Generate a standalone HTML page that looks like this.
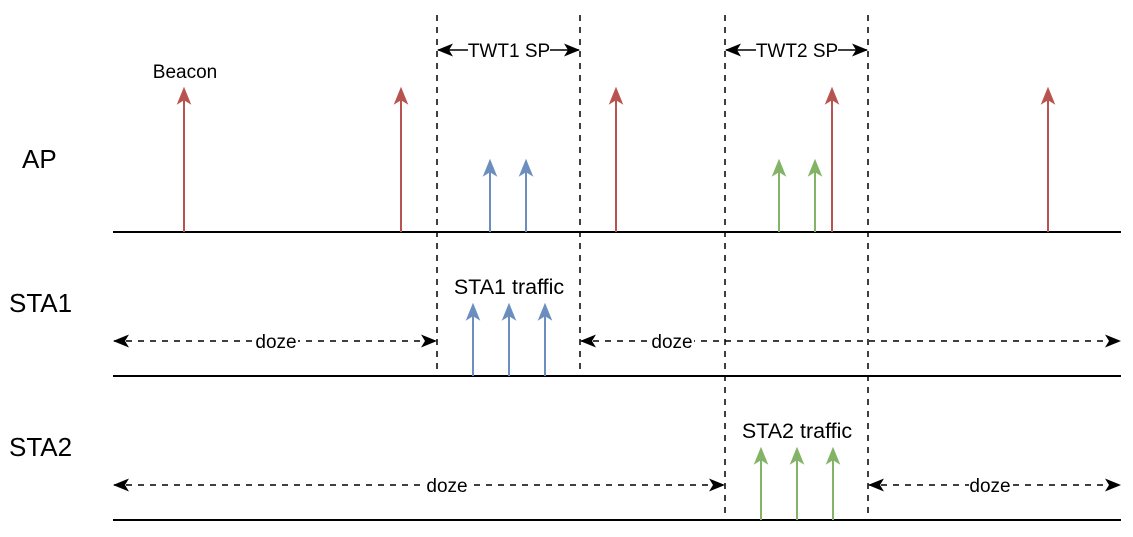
<!DOCTYPE html>
<html><head><meta charset="utf-8"><style>
html,body{margin:0;padding:0;background:#fff;width:1133px;height:537px;overflow:hidden}
text{font-family:"Liberation Sans",Helvetica,Arial,sans-serif}
</style></head><body>
<svg width="1133" height="537" viewBox="0 0 1133 537" xmlns="http://www.w3.org/2000/svg">
<defs>
<marker id="r" viewBox="0 0 16 16" refX="14" refY="8" markerWidth="18" markerHeight="18" markerUnits="userSpaceOnUse" orient="auto"><path d="M0,1.5 L16,8 L0,14.5 L4,8 Z" fill="#b85450"/></marker>
<marker id="b" viewBox="0 0 16 16" refX="14" refY="8" markerWidth="18" markerHeight="18" markerUnits="userSpaceOnUse" orient="auto"><path d="M0,1.5 L16,8 L0,14.5 L4,8 Z" fill="#6c8ebf"/></marker>
<marker id="g" viewBox="0 0 16 16" refX="14" refY="8" markerWidth="18" markerHeight="18" markerUnits="userSpaceOnUse" orient="auto"><path d="M0,1.5 L16,8 L0,14.5 L4,8 Z" fill="#82b366"/></marker>
<marker id="k" viewBox="0 0 16 16" refX="15" refY="8" markerWidth="16" markerHeight="16" markerUnits="userSpaceOnUse" orient="auto-start-reverse"><path d="M0,1.5 L16,8 L0,14.5 L4,8 Z" fill="#000"/></marker>
</defs>
<g stroke="#000" stroke-width="2">
<line x1="113" y1="232" x2="1121" y2="232"/>
<line x1="113" y1="376" x2="1121" y2="376"/>
<line x1="113" y1="520" x2="1121" y2="520"/>
</g>
<g stroke="#000" stroke-width="1.5" stroke-dasharray="6,6">
<line x1="437" y1="15" x2="437" y2="376"/>
<line x1="580" y1="15" x2="580" y2="376"/>
<line x1="725" y1="15" x2="725" y2="520"/>
<line x1="868" y1="15" x2="868" y2="520"/>
</g>
<g stroke="#000" stroke-width="1.5">
<line x1="438" y1="50" x2="468" y2="50" marker-start="url(#k)"/>
<line x1="550" y1="50" x2="579" y2="50" marker-end="url(#k)"/>
<line x1="726" y1="50" x2="756" y2="50" marker-start="url(#k)"/>
<line x1="838" y1="50" x2="867" y2="50" marker-end="url(#k)"/>
</g>
<g stroke="#000" stroke-width="1.5" stroke-dasharray="6,6">
<line x1="114" y1="341" x2="436" y2="341" marker-start="url(#k)" marker-end="url(#k)"/>
<line x1="581" y1="341" x2="1120" y2="341" marker-start="url(#k)" marker-end="url(#k)"/>
<line x1="114" y1="485" x2="724" y2="485" marker-start="url(#k)" marker-end="url(#k)"/>
<line x1="869" y1="485" x2="1120" y2="485" marker-start="url(#k)" marker-end="url(#k)"/>
</g>
<g fill="#fff">
<rect x="255" y="331" width="43" height="20"/>
<rect x="651" y="331" width="43" height="20"/>
<rect x="426" y="475" width="43" height="20"/>
<rect x="969" y="475" width="43" height="20"/>
</g>
<g stroke="#b85450" stroke-width="2">
<line x1="184" y1="232" x2="184" y2="89" marker-end="url(#r)"/>
<line x1="401" y1="232" x2="401" y2="89" marker-end="url(#r)"/>
<line x1="616" y1="232" x2="616" y2="89" marker-end="url(#r)"/>
<line x1="832" y1="232" x2="832" y2="89" marker-end="url(#r)"/>
<line x1="1048" y1="232" x2="1048" y2="89" marker-end="url(#r)"/>
</g>
<g stroke="#6c8ebf" stroke-width="2">
<line x1="490" y1="232" x2="490" y2="161" marker-end="url(#b)"/>
<line x1="526" y1="232" x2="526" y2="161" marker-end="url(#b)"/>
<line x1="473" y1="376" x2="473" y2="305" marker-end="url(#b)"/>
<line x1="509" y1="376" x2="509" y2="305" marker-end="url(#b)"/>
<line x1="545" y1="376" x2="545" y2="305" marker-end="url(#b)"/>
</g>
<g stroke="#82b366" stroke-width="2">
<line x1="779" y1="232" x2="779" y2="161" marker-end="url(#g)"/>
<line x1="815" y1="232" x2="815" y2="161" marker-end="url(#g)"/>
<line x1="761" y1="520" x2="761" y2="449" marker-end="url(#g)"/>
<line x1="797" y1="520" x2="797" y2="449" marker-end="url(#g)"/>
<line x1="833" y1="520" x2="833" y2="449" marker-end="url(#g)"/>
</g>
<g font-size="19" fill="#000" text-anchor="middle">
<text x="509" y="57">TWT1 SP</text>
<text x="797" y="57">TWT2 SP</text>
<text x="185" y="78">Beacon</text>
<text x="276" y="348">doze</text>
<text x="672" y="348">doze</text>
<text x="447" y="492">doze</text>
<text x="990" y="492">doze</text>
<text x="509" y="294" font-size="21.5">STA1 traffic</text>
<text x="797" y="438" font-size="21.5">STA2 traffic</text>
</g>
<g font-size="26" fill="#000">
<text x="22" y="168">AP</text>
<text x="9" y="312">STA1</text>
<text x="9" y="456">STA2</text>
</g>
</svg>
</body></html>
